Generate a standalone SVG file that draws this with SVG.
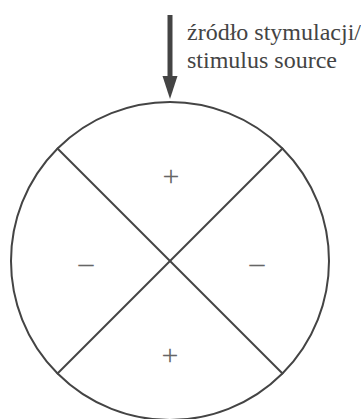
<svg xmlns="http://www.w3.org/2000/svg" width="361" height="419" viewBox="0 0 361 419">
<defs>
<marker id="unused" markerWidth="1" markerHeight="1"/>
</defs>
<rect width="361" height="419" fill="#fff"/>
<g id="disc">
<circle cx="170" cy="261" r="159" stroke="#444" stroke-width="2" fill="none"/>
</g>
<g id="connectors">
<line x1="57" y1="148" x2="283" y2="374" stroke="#444" stroke-width="2"/>
<line x1="283" y1="148" x2="57" y2="374" stroke="#444" stroke-width="2"/>
<line x1="170" y1="15" x2="170" y2="78" stroke="#444" stroke-width="5"/>
<polygon points="162.5,76 177.5,76 170,99" fill="#444"/>
</g>
<g id="signs">
<text x="171" y="186" font-family="Liberation Serif" font-size="30" fill="#666" text-anchor="middle">+</text>
<text x="170" y="365" font-family="Liberation Serif" font-size="30" fill="#666" text-anchor="middle">+</text>
<text x="86" y="273" font-family="Liberation Serif" font-size="30" fill="#666" text-anchor="middle">&#8211;</text>
<text x="257" y="273" font-family="Liberation Serif" font-size="30" fill="#666" text-anchor="middle">&#8211;</text>
</g>
<g id="label">
<text x="187" y="40" font-family="Liberation Serif" font-size="24" fill="#444">&#378;r&#243;d&#322;o stymulacji/</text>
<text x="187" y="68" font-family="Liberation Serif" font-size="24" fill="#444">stimulus source</text>
</g>
</svg>
